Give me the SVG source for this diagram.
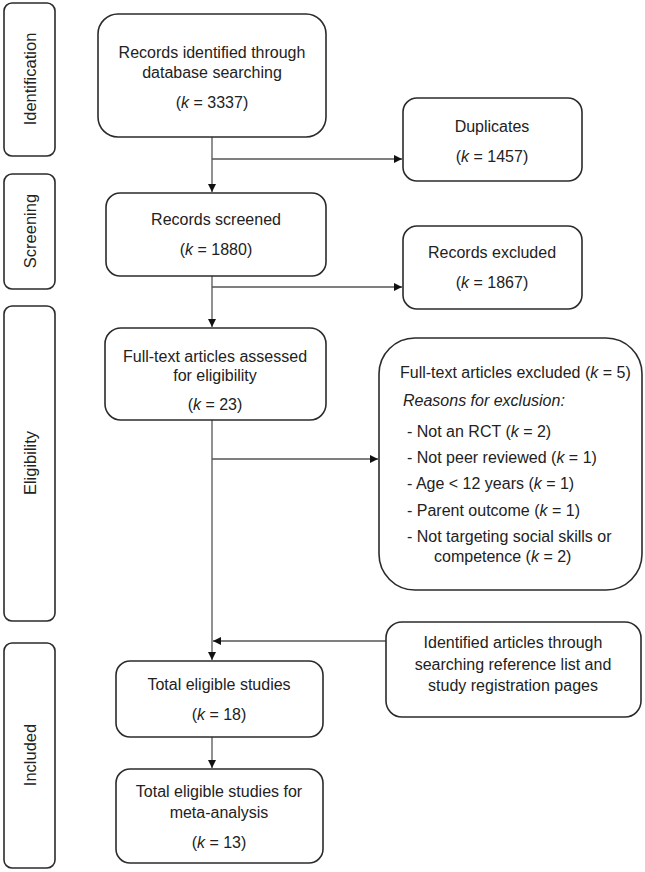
<svg xmlns="http://www.w3.org/2000/svg" width="645" height="872" viewBox="0 0 645 872">
<style>
.box{fill:#fff;stroke:#2b2b2b;stroke-width:1.6}
.t{font-family:"Liberation Sans",Arial,sans-serif;font-size:16px;fill:#222;text-anchor:middle}
.l{font-family:"Liberation Sans",Arial,sans-serif;font-size:16px;fill:#222}
.side{font-family:"Liberation Sans",Arial,sans-serif;font-size:16.5px;fill:#222;text-anchor:middle}
.c{fill:none;stroke:#555;stroke-width:1.3}
</style>
<defs>
<marker id="ah" viewBox="0 0 10 10" refX="10" refY="5" markerWidth="9" markerHeight="8" markerUnits="userSpaceOnUse" orient="auto">
<path d="M0,0 L10,5 L0,10 z" fill="#111"/>
</marker>
</defs>
<g id="side-identification"><rect class="box" x="4" y="3" width="51" height="153" rx="8"/><text class="side" transform="translate(36,79) rotate(-90)">Identification</text></g>
<g id="side-screening"><rect class="box" x="4" y="174" width="51" height="115" rx="8"/><text class="side" transform="translate(36,231) rotate(-90)">Screening</text></g>
<g id="side-eligibility"><rect class="box" x="4" y="306" width="51" height="315" rx="8"/><text class="side" transform="translate(36,463) rotate(-90)">Eligibility</text></g>
<g id="side-included"><rect class="box" x="4" y="643" width="51" height="225" rx="8"/><text class="side" transform="translate(36,755) rotate(-90)">Included</text></g>
<g id="connectors">
<path class="c" d="M212,137 V192" marker-end="url(#ah)"/>
<path class="c" d="M212,159 H402" marker-end="url(#ah)"/>
<path class="c" d="M212,276 V327" marker-end="url(#ah)"/>
<path class="c" d="M212,287 H402" marker-end="url(#ah)"/>
<path class="c" d="M212,420 V660" marker-end="url(#ah)"/>
<path class="c" d="M212,459 H378" marker-end="url(#ah)"/>
<path class="c" d="M386,641 H213" marker-end="url(#ah)"/>
<path class="c" d="M212,737 V768" marker-end="url(#ah)"/>
</g>
<g id="n-identified"><rect class="box" x="98" y="14" width="228" height="123" rx="20"/>
<text class="t" x="212" y="58">Records identified through</text>
<text class="t" x="212" y="78">database searching</text>
<text class="t" x="212" y="108">(<tspan font-style="italic">k</tspan> = 3337)</text></g>
<g id="n-duplicates"><rect class="box" x="403" y="98" width="179" height="83" rx="14"/>
<text class="t" x="492" y="132">Duplicates</text>
<text class="t" x="492" y="162">(<tspan font-style="italic">k</tspan> = 1457)</text></g>
<g id="n-screened"><rect class="box" x="106" y="193" width="220" height="83" rx="14"/>
<text class="t" x="216" y="225">Records screened</text>
<text class="t" x="216" y="255">(<tspan font-style="italic">k</tspan> = 1880)</text></g>
<g id="n-excluded"><rect class="box" x="403" y="226" width="179" height="83" rx="14"/>
<text class="t" x="492" y="258">Records excluded</text>
<text class="t" x="492" y="288">(<tspan font-style="italic">k</tspan> = 1867)</text></g>
<g id="n-fulltext"><rect class="box" x="105" y="328" width="221" height="92" rx="16"/>
<text class="t" x="215" y="362">Full-text articles assessed</text>
<text class="t" x="215" y="381">for eligibility</text>
<text class="t" x="215" y="410">(<tspan font-style="italic">k</tspan> = 23)</text></g>
<g id="n-ftexcluded"><rect class="box" x="379" y="338" width="263" height="252" rx="36"/>
<text class="l" x="400" y="378">Full-text articles excluded (<tspan font-style="italic">k</tspan> = 5)</text>
<text class="l" x="403" y="406" font-style="italic">Reasons for exclusion:</text>
<text class="l" x="407" y="437">- Not an RCT (<tspan font-style="italic">k</tspan> = 2)</text>
<text class="l" x="407" y="463">- Not peer reviewed (<tspan font-style="italic">k</tspan> = 1)</text>
<text class="l" x="407" y="489">- Age &lt; 12 years (<tspan font-style="italic">k</tspan> = 1)</text>
<text class="l" x="407" y="516">- Parent outcome (<tspan font-style="italic">k</tspan> = 1)</text>
<text class="l" x="407" y="542">- Not targeting social skills or</text>
<text class="l" x="434" y="562">competence (<tspan font-style="italic">k</tspan> = 2)</text></g>
<g id="n-additional"><rect class="box" x="386" y="622" width="255" height="95" rx="16"/>
<text class="t" x="513" y="648">Identified articles through</text>
<text class="t" x="513" y="670">searching reference list and</text>
<text class="t" x="513" y="691">study registration pages</text></g>
<g id="n-total"><rect class="box" x="116" y="661" width="207" height="76" rx="14"/>
<text class="t" x="219" y="690">Total eligible studies</text>
<text class="t" x="219" y="720">(<tspan font-style="italic">k</tspan> = 18)</text></g>
<g id="n-meta"><rect class="box" x="116" y="769" width="207" height="94" rx="14"/>
<text class="t" x="219" y="797">Total eligible studies for</text>
<text class="t" x="219" y="818">meta-analysis</text>
<text class="t" x="219" y="848">(<tspan font-style="italic">k</tspan> = 13)</text></g>
</svg>
